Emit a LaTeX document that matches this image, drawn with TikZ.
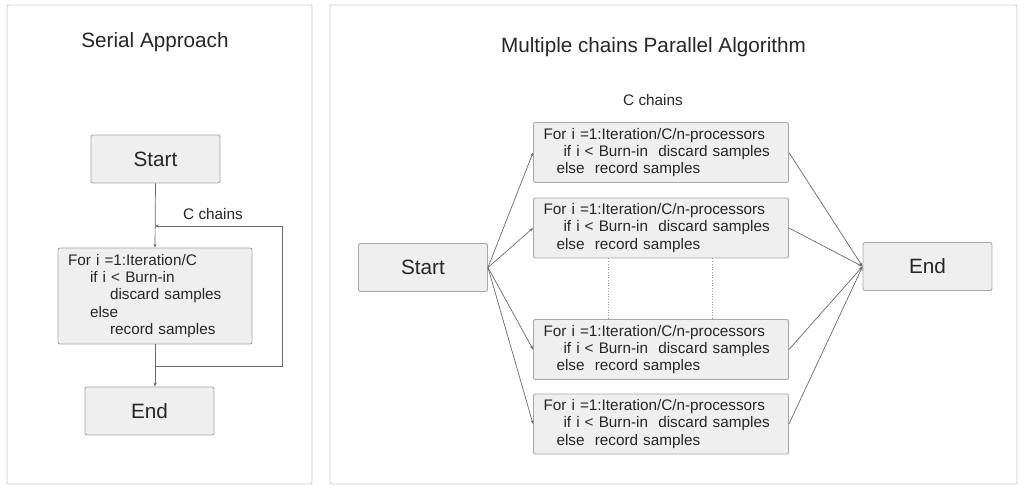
\documentclass[tikz,border=0pt]{standalone}
\usepackage{fontspec}
\setmainfont{Liberation Sans}
\usetikzlibrary{arrows.meta}
\definecolor{boxfill}{HTML}{EFEFEF}
\definecolor{boxline}{HTML}{A8A8A8}
\definecolor{panelline}{HTML}{CCCCCC}
\definecolor{txt}{HTML}{262626}
\definecolor{arr}{HTML}{6A6A6A}
\tikzset{
  panel/.style={draw=panelline, line width=0.9pt, rounded corners=2pt},
  bigbox/.style={draw=boxline, fill=boxfill, line width=0.9pt, rounded corners=2pt,
    text=txt, font=\fontsize{20.7}{24}\selectfont, minimum width=129pt, minimum height=48pt, inner sep=0pt},
  codebox/.style={draw=boxline, fill=boxfill, line width=0.9pt, rounded corners=2pt,
    text=txt, font=\fontsize{15.3}{17.2}\selectfont, align=left, inner xsep=10pt, inner ysep=0pt},
  title/.style={text=txt, font=\fontsize{20.7}{24}\selectfont, inner sep=0pt},
  lbl/.style={text=txt, font=\fontsize{15.3}{17.2}\selectfont, inner sep=0pt},
  conn/.style={draw=arr, line width=0.7pt, -{Stealth[length=4pt,width=3pt]}},
  plain/.style={draw=arr, line width=0.7pt},
  dots/.style={draw=arr!70, line width=0.7pt, dotted}
}
\begin{document}
\begin{tikzpicture}[x=1pt,y=-1pt]
\useasboundingbox (0,0) rectangle (1024,486);
% panels
\draw[panel] (7,5) rectangle (312,484);
\draw[panel] (330,5) rectangle (1017,484);
% ---------- Serial ----------
\node[title] (stitle) at (155,42) {Serial Approach};
\node[bigbox] (sstart) at (155.5,159) {Start};
\node[codebox, text width=174pt, minimum height=96pt] (sloop) at (155,296)
 {For i =1:Iteration/C\\
  \hspace*{22pt}if i < Burn-in\\
  \hspace*{42pt}discard samples\\
  \hspace*{22pt}else\\
  \hspace*{42pt}record samples};
\node[bigbox] (send) at (149.5,411) {End};
\coordinate (lpA) at (155,366);
\coordinate (lpB) at (282,366);
\coordinate (lpC) at (282,226);
\coordinate (lpD) at (155,226);
\node[lbl] (scc) at (213,214) {C chains};
\draw[conn] (sstart.south) -- (sloop.north);
\draw[conn] (sloop.south) -- (sloop.south |- send.north);
\draw[conn] (lpA) -- (lpB) -- (lpC) -- (lpD);
% ---------- Parallel ----------
\node[title] (ptitle) at (653.5,47) {Multiple chains Parallel Algorithm};
\node[lbl] (pcc) at (653,100) {C chains};
\node[bigbox] (pstart) at (423,267.5) {Start};
\node[bigbox] (pend) at (927.5,266.5) {End};
\foreach \n/\y in {c1/152.5, c2/228, c3/349.5, c4/424} {
  \node[codebox, text width=235pt, minimum height=60pt] (\n) at (661,\y)
   {For i =1:Iteration/C/n-processors\\
    \hspace*{20pt}if i < Burn-in\ \ discard samples\\
    \hspace*{13pt}else\ \ record samples};
}
\foreach \n in {c1,c2,c3,c4} {
  \draw[conn] (pstart.east) -- (\n.west);
  \draw[conn] (\n.east) -- (pend.west);
}
\draw[dots] ([xshift=-53pt]c2.south) -- ([xshift=-53pt]c3.north);
\draw[dots] ([xshift=51pt]c2.south) -- ([xshift=51pt]c3.north);
\end{tikzpicture}
\end{document}
